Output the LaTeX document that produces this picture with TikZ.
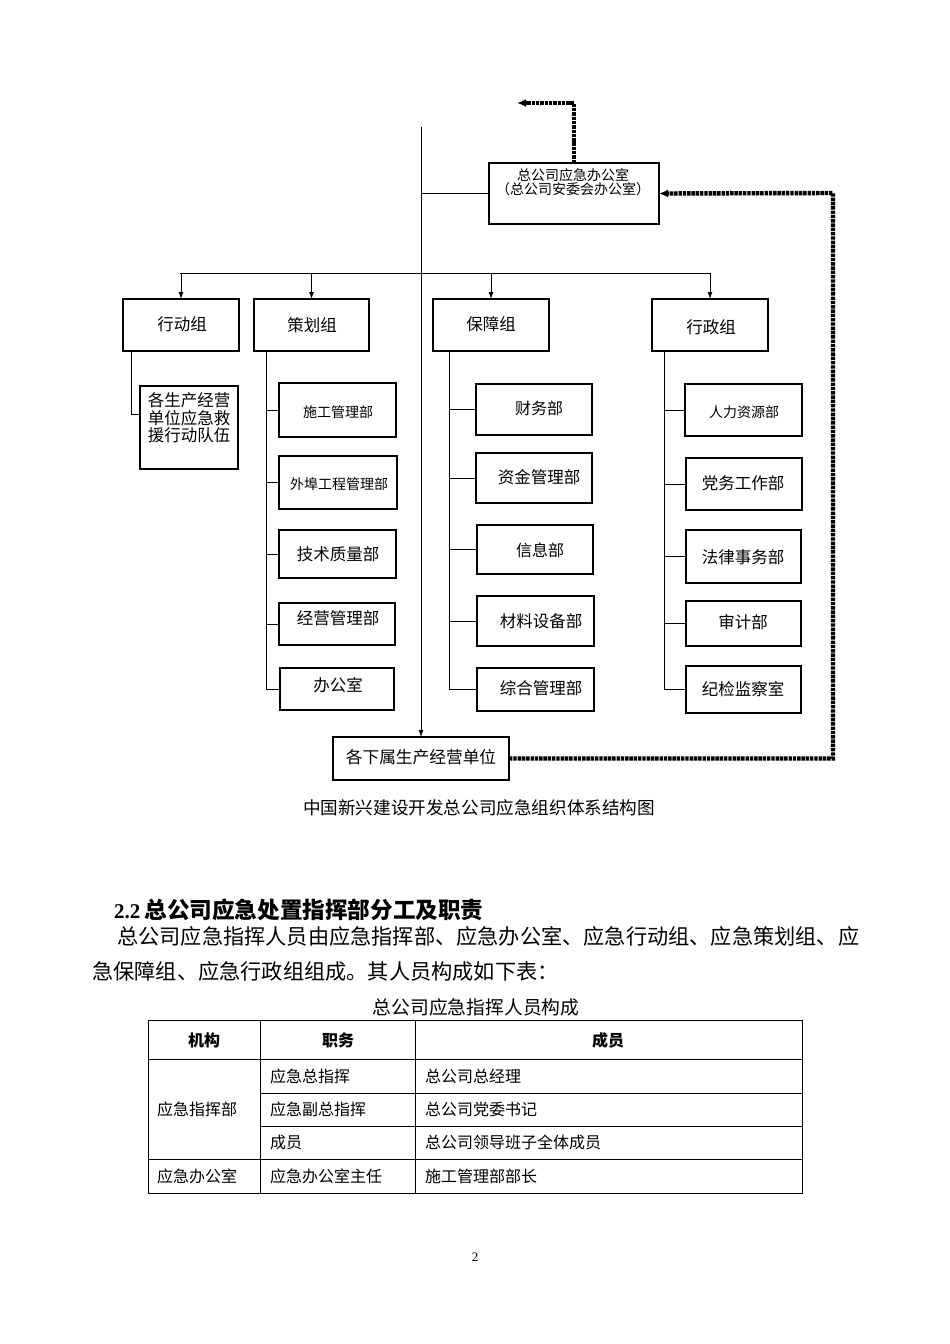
\documentclass[tikz,border=0pt]{standalone}
\usepackage{fontspec}
\setmainfont{Liberation Serif}
\newfontfamily\cjk{Noto Sans CJK SC}
\usetikzlibrary{arrows.meta}
\newcommand\obox[5]{%
  \node[bx, minimum width={#4-#2}, minimum height={#5-#3}] (#1) at ({(#2+#4)/2},{(#3+#5)/2}) {};}
\newcommand\fs[1]{\fontsize{#1}{#1}\selectfont}
\begin{document}
\begin{tikzpicture}[x=1pt,y=-1pt,
  bx/.style={draw, line width=1.1pt, inner sep=0pt, outer sep=0pt},
  ln/.style={line width=0.9pt},
  arr/.style={ln, -{Latex[length=7pt,width=5pt]}},
  dd/.style={line width=4.4pt, dash pattern=on 3.4pt off 0.9pt, -{Latex[length=9pt,width=8pt]}},
  tx/.style={font=\cjk\fs{#1}, inner sep=0pt, align=center},
  tx/.default=16.5]
\fill[white] (0,0) rectangle (950,1344);
\useasboundingbox (0,0) rectangle (950,1344);

% ---- boxes
\obox{office}{489}{163}{659}{224}
\obox{xdz}{123}{299}{239}{351}
\obox{chz}{254}{299}{369}{351}
\obox{bzz}{433}{299}{549}{351}
\obox{xzz}{652}{299}{768}{351}
\obox{team}{140}{386}{238}{469}
\obox{c1}{279}{383}{396}{437}
\obox{c2}{279}{456}{397}{509}
\obox{c3}{279}{530}{396}{578}
\obox{c4}{279}{603}{395}{645}
\obox{c5}{280}{668}{394}{710}
\obox{b1}{476}{384}{592}{435}
\obox{b2}{476}{453}{592}{503}
\obox{b3}{477}{525}{593}{574}
\obox{b4}{477}{596}{594}{646}
\obox{b5}{477}{668}{594}{711}
\obox{x1}{685}{384}{802}{436}
\obox{x2}{686}{458}{802}{510}
\obox{x3}{686}{530}{801}{583}
\obox{x4}{686}{601}{801}{646}
\obox{x5}{686}{666}{801}{713}
\obox{sub}{333}{737}{509}{780}

% ---- texts
\node[tx=14] (toff) at (573,182) {总公司应急办公室\\[0pt]（总公司安委会办公室）};
\node[tx] (txdz) at (182,324) {行动组};
\node[tx] (tchz) at (312,325) {策划组};
\node[tx] (tbzz) at (491,324) {保障组};
\node[tx] (txzz) at (711,327) {行政组};
\node[tx, align=left] (tteam) at (189,418) {各生产经营\\[1pt]单位应急救\\[1pt]援行动队伍};
\node[tx=14] (tc1) at (338,412) {施工管理部};
\node[tx=14] (tc2) at (339,484) {外埠工程管理部};
\node[tx] (tc3) at (338,554) {技术质量部};
\node[tx] (tc4) at (338,618) {经营管理部};
\node[tx] (tc5) at (338,685) {办公室};
\node[tx=16] (tb1) at (539,408) {财务部};
\node[tx] (tb2) at (539,477) {资金管理部};
\node[tx=16] (tb3) at (540,550) {信息部};
\node[tx] (tb4) at (541,621) {材料设备部};
\node[tx] (tb5) at (541,688) {综合管理部};
\node[tx=14] (tx1) at (744,412) {人力资源部};
\node[tx] (tx2) at (743,483) {党务工作部};
\node[tx] (tx3) at (743,557) {法律事务部};
\node[tx] (tx4) at (743,622) {审计部};
\node[tx] (tx5) at (743,689) {纪检监察室};
\node[tx=16.7] (tsub) at (421,757) {各下属生产经营单位};
\node[tx=17.6] (cap) at (479,808) {中国新兴建设开发总公司应急组织体系结构图};

% ---- connectors
\coordinate (top) at (421,127);
\draw[arr] (top) -- (sub.north);
\draw[ln] (top |- office.west) -- (office.west);
\coordinate (barL) at (180,273);
\coordinate (barR) at (710,273);
\draw[ln] (barL) -- (barR);
\foreach \g in {xdz,chz,bzz,xzz} \draw[arr] (\g.north |- barL) -- (\g.north);

\coordinate (s1) at (131,414);
\draw[ln] (xdz.south -| s1) |- (s1 -| team.west);
\coordinate (s2) at (266,0);
\draw[ln] (chz.south -| s2) |- (c5.west);
\foreach \c in {c1,c2,c3,c4} \draw[ln] (s2 |- \c.west) -- (\c.west);
\coordinate (s3) at (449,0);
\draw[ln] (bzz.south -| s3) |- (b5.west);
\foreach \c in {b1,b2,b3,b4} \draw[ln] (s3 |- \c.west) -- (\c.west);
\coordinate (s4) at (664,0);
\draw[ln] (xzz.south -| s4) |- (x5.west);
\foreach \c in {x1,x2,x3,x4} \draw[ln] (s4 |- \c.west) -- (\c.west);

\coordinate (dtop) at (574,103);
\coordinate (dend) at (517,103);
\draw[dd] (office.north) -- (dtop) -- (dend);
\coordinate (dc) at (833,193);
\draw[dd] (sub.east) -| (dc) -- (office.east);

% ---- text below
\node[anchor=west, inner sep=0pt, font=\fs{21}\bfseries] (head) at (114,910) {2.2\hspace{4pt}{\cjk\fontsize{22.6}{22.6}\selectfont 总公司应急处置指挥部分工及职责}};
\node[anchor=west, inner sep=0pt, font=\cjk\fs{21.2}] (p1) at (117,936) {总公司应急指挥人员由应急指挥部、应急办公室、应急行动组、应急策划组、应};
\node[anchor=west, inner sep=0pt, font=\cjk\fs{21.2}] (p2) at (92,971) {急保障组、应急行政组组成。其人员构成如下表：};
\node[tx=18.8] (tcap) at (476,1007) {总公司应急指挥人员构成};

% ---- table
\draw[line width=1pt] (148,1020) rectangle (802,1193);
\draw[line width=0.8pt] (148,1059) -- (802,1059);
\draw[line width=0.8pt] (148,1159) -- (802,1159);
\draw[line width=0.8pt] (260,1093) -- (802,1093);
\draw[line width=0.8pt] (260,1126) -- (802,1126);
\draw[line width=0.8pt] (260,1020) -- (260,1193);
\draw[line width=0.8pt] (415,1020) -- (415,1193);
\node[tx=16, font=\cjk\fs{16}\bfseries] (h1) at (204,1040) {机构};
\node[tx=16, font=\cjk\fs{16}\bfseries] (h2) at (338,1040) {职务};
\node[tx=16, font=\cjk\fs{16}\bfseries] (h3) at (608,1040) {成员};
\node[tx=16, anchor=west] (r0) at (157,1109) {应急指挥部};
\node[tx=16, anchor=west] (r0b) at (157,1176) {应急办公室};
\node[tx=16, anchor=west] (r1) at (270,1076) {应急总指挥};
\node[tx=16, anchor=west] (r2) at (270,1109) {应急副总指挥};
\node[tx=16, anchor=west] (r3) at (270,1142) {成员};
\node[tx=16, anchor=west] (r4) at (270,1176) {应急办公室主任};
\node[tx=16, anchor=west] (m1) at (425,1076) {总公司总经理};
\node[tx=16, anchor=west] (m2) at (425,1109) {总公司党委书记};
\node[tx=16, anchor=west] (m3) at (425,1142) {总公司领导班子全体成员};
\node[tx=16, anchor=west] (m4) at (425,1176) {施工管理部部长};
\node[inner sep=0pt, font=\fs{13}] (pg) at (475,1257) {2};
\end{tikzpicture}
\end{document}
